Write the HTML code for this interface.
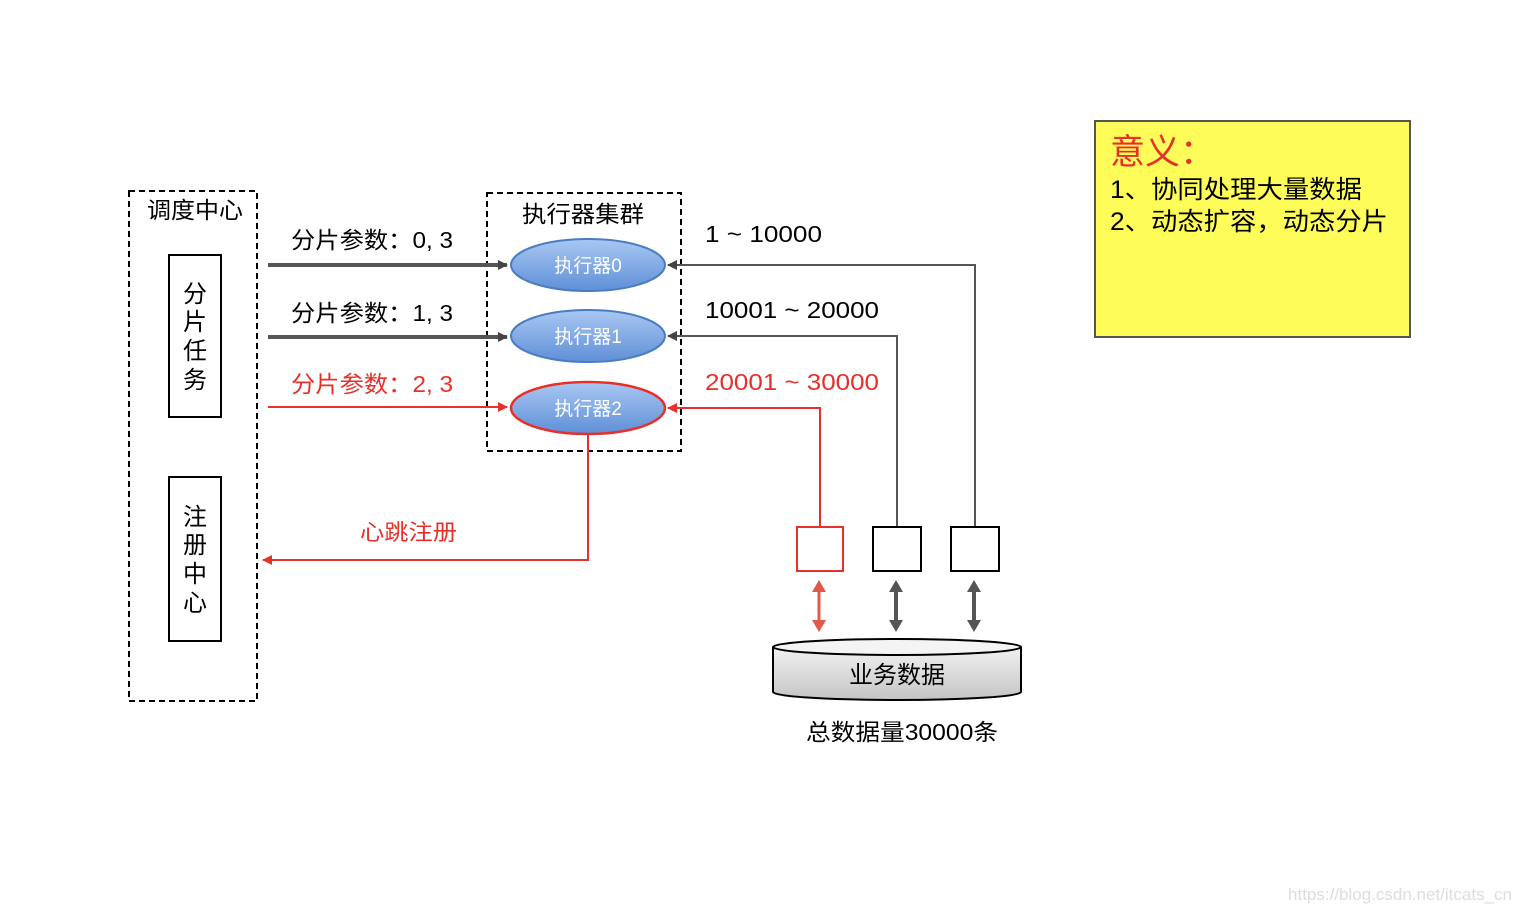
<!DOCTYPE html>
<html><head><meta charset="utf-8">
<style>
html,body{margin:0;padding:0;background:#fff;}
svg{display:block;}
text{font-family:"Liberation Sans","Noto Sans CJK SC",sans-serif;}
</style></head>
<body>
<svg width="1524" height="914" viewBox="0 0 1524 914" xmlns="http://www.w3.org/2000/svg">
<defs>
<linearGradient id="eg" x1="0" y1="0" x2="0" y2="1">
<stop offset="0" stop-color="#a9c8f3"/><stop offset="1" stop-color="#5f8fd6"/>
</linearGradient>
<linearGradient id="cg" x1="0" y1="0" x2="0" y2="1">
<stop offset="0" stop-color="#f2f2f2"/><stop offset="1" stop-color="#c4c4c4"/>
</linearGradient>
<marker id="ag" markerWidth="10" markerHeight="10" refX="9" refY="5" orient="auto" markerUnits="userSpaceOnUse"><path d="M0,0 L10,5 L0,10z" fill="#444"/></marker>
<marker id="ar" markerWidth="10" markerHeight="10" refX="9" refY="5" orient="auto" markerUnits="userSpaceOnUse"><path d="M0,0 L10,5 L0,10z" fill="#e8302a"/></marker>
<marker id="dg" markerWidth="12" markerHeight="14" refX="6" refY="7" orient="auto-start-reverse" markerUnits="userSpaceOnUse"><path d="M0,0 L12,7 L0,14z" fill="#555"/></marker>
<marker id="dr" markerWidth="12" markerHeight="14" refX="6" refY="7" orient="auto-start-reverse" markerUnits="userSpaceOnUse"><path d="M0,0 L12,7 L0,14z" fill="#e05a4a"/></marker>
</defs>

<rect x="129" y="191" width="128" height="510" fill="none" stroke="#000" stroke-width="2" stroke-dasharray="6,4"/>
<text x="147" y="218" font-size="23" textLength="96" lengthAdjust="spacingAndGlyphs">调度中心</text>
<rect x="169" y="255" width="52" height="162" fill="#fff" stroke="#000" stroke-width="2"/>
<text x="195" y="302" font-size="24" text-anchor="middle">分</text>
<text x="195" y="330" font-size="24" text-anchor="middle">片</text>
<text x="195" y="359" font-size="24" text-anchor="middle">任</text>
<text x="195" y="388" font-size="24" text-anchor="middle">务</text>
<rect x="169" y="477" width="52" height="164" fill="#fff" stroke="#000" stroke-width="2"/>
<text x="195" y="525" font-size="24" text-anchor="middle">注</text>
<text x="195" y="553" font-size="24" text-anchor="middle">册</text>
<text x="195" y="582" font-size="24" text-anchor="middle">中</text>
<text x="195" y="611" font-size="24" text-anchor="middle">心</text>

<rect x="487" y="193" width="194" height="258" fill="none" stroke="#000" stroke-width="2" stroke-dasharray="6,4"/>
<text x="522" y="222" font-size="23" textLength="122" lengthAdjust="spacingAndGlyphs">执行器集群</text>

<text x="291" y="248" font-size="23" textLength="162" lengthAdjust="spacingAndGlyphs">分片参数：0, 3</text>
<line x1="268" y1="265" x2="507" y2="265" stroke="#555" stroke-width="4" marker-end="url(#ag)"/>
<text x="291" y="321" font-size="23" textLength="162" lengthAdjust="spacingAndGlyphs">分片参数：1, 3</text>
<line x1="268" y1="337" x2="507" y2="337" stroke="#555" stroke-width="4" marker-end="url(#ag)"/>
<text x="291" y="392" font-size="23" fill="#e8302a" textLength="162" lengthAdjust="spacingAndGlyphs">分片参数：2, 3</text>
<line x1="268" y1="407" x2="507" y2="407" stroke="#e8302a" stroke-width="2" marker-end="url(#ar)"/>

<ellipse cx="588" cy="265" rx="77" ry="26" fill="url(#eg)" stroke="#4a7cc0" stroke-width="2"/>
<text x="588" y="272" font-size="19" fill="#fff" text-anchor="middle">执行器0</text>
<ellipse cx="588" cy="336" rx="77" ry="26" fill="url(#eg)" stroke="#4a7cc0" stroke-width="2"/>
<text x="588" y="343" font-size="19" fill="#fff" text-anchor="middle">执行器1</text>
<ellipse cx="588" cy="408" rx="77" ry="26" fill="url(#eg)" stroke="#e8302a" stroke-width="2.5"/>
<text x="588" y="415" font-size="19" fill="#fff" text-anchor="middle">执行器2</text>

<polyline points="588,434 588,560 263,560" fill="none" stroke="#e8302a" stroke-width="2" marker-end="url(#ar)"/>
<text x="360" y="540" font-size="22" fill="#e8302a" textLength="97" lengthAdjust="spacingAndGlyphs">心跳注册</text>

<text x="705" y="242" font-size="23" textLength="117" lengthAdjust="spacingAndGlyphs">1 ~ 10000</text>
<polyline points="975,527 975,265 668,265" fill="none" stroke="#555" stroke-width="2" marker-end="url(#ag)"/>
<text x="705" y="318" font-size="23" textLength="174" lengthAdjust="spacingAndGlyphs">10001 ~ 20000</text>
<polyline points="897,527 897,336 668,336" fill="none" stroke="#555" stroke-width="2" marker-end="url(#ag)"/>
<text x="705" y="390" font-size="23" fill="#e8302a" textLength="174" lengthAdjust="spacingAndGlyphs">20001 ~ 30000</text>
<polyline points="820,527 820,408 668,408" fill="none" stroke="#e8302a" stroke-width="2" marker-end="url(#ar)"/>

<rect x="797" y="527" width="46" height="44" fill="#fff" stroke="#e8302a" stroke-width="2"/>
<rect x="873" y="527" width="48" height="44" fill="#fff" stroke="#000" stroke-width="2"/>
<rect x="951" y="527" width="48" height="44" fill="#fff" stroke="#000" stroke-width="2"/>

<line x1="819" y1="586" x2="819" y2="626" stroke="#e05a4a" stroke-width="3" marker-start="url(#dr)" marker-end="url(#dr)"/>
<line x1="896" y1="586" x2="896" y2="626" stroke="#555" stroke-width="4" marker-start="url(#dg)" marker-end="url(#dg)"/>
<line x1="974" y1="586" x2="974" y2="626" stroke="#555" stroke-width="4" marker-start="url(#dg)" marker-end="url(#dg)"/>

<path d="M773,647 L773,692 A124,8 0 0 0 1021,692 L1021,647" fill="url(#cg)" stroke="#000" stroke-width="2"/>
<ellipse cx="897" cy="647" rx="124" ry="8" fill="#f4f4f4" stroke="#000" stroke-width="2"/>
<text x="897" y="683" font-size="24" text-anchor="middle">业务数据</text>
<text x="806" y="740" font-size="23" textLength="192" lengthAdjust="spacingAndGlyphs">总数据量30000条</text>

<rect x="1095" y="121" width="315" height="216" fill="#fdfc58" stroke="#555" stroke-width="2"/>
<text x="1110" y="164" font-size="35" fill="#e8302a">意义：</text>
<text x="1110" y="198" font-size="25" textLength="252" lengthAdjust="spacingAndGlyphs">1、协同处理大量数据</text>
<text x="1110" y="230" font-size="25" textLength="278" lengthAdjust="spacingAndGlyphs">2、动态扩容，动态分片</text>

<text x="1512" y="900" font-size="17" fill="#ddd" text-anchor="end" font-family="Liberation Mono, monospace">https://blog.csdn.net/itcats_cn</text>
</svg>
</body></html>
